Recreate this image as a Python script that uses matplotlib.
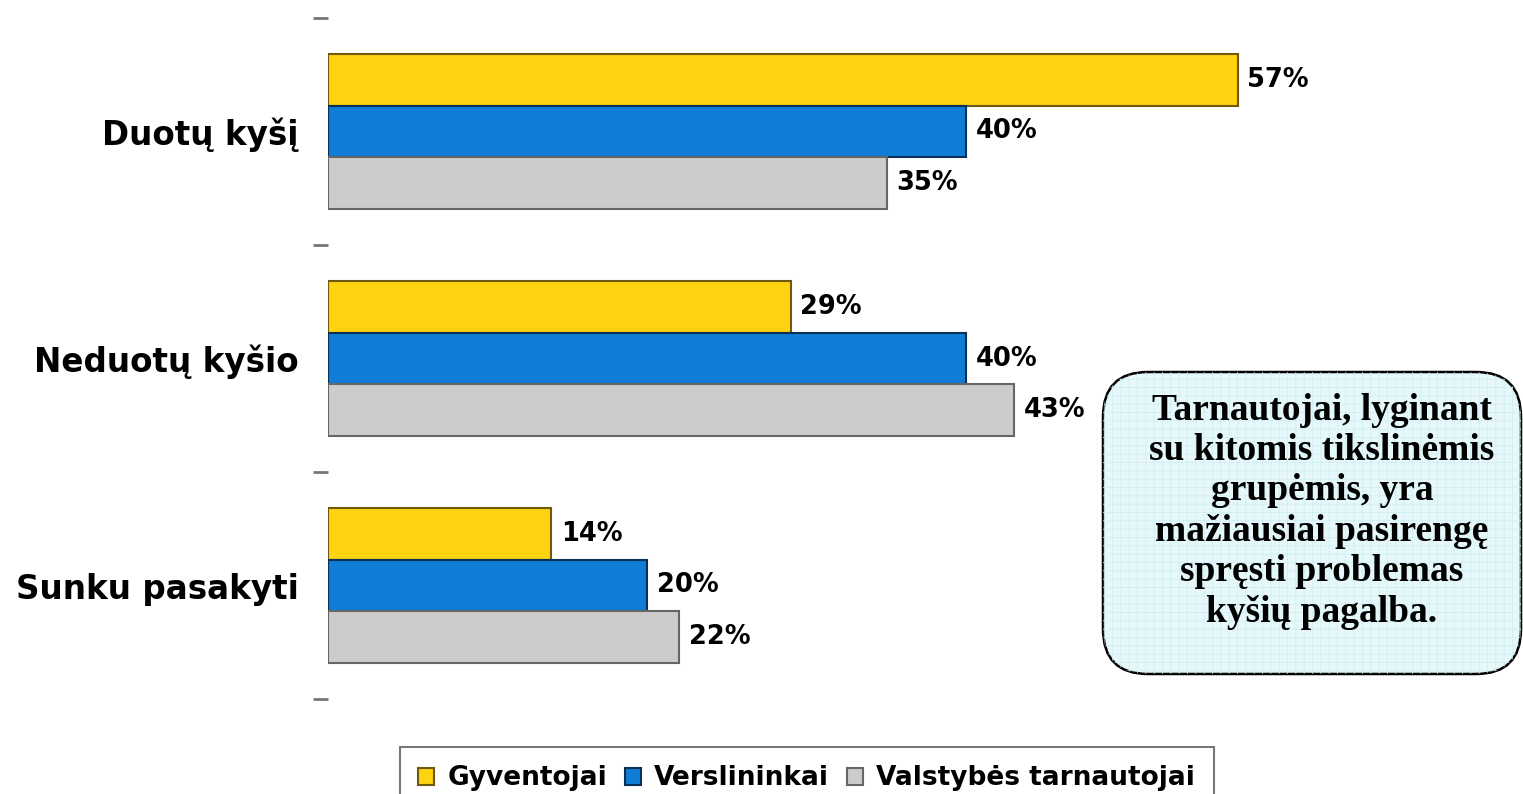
import matplotlib
matplotlib.use("Agg")
import matplotlib.pyplot as plt
from matplotlib.patches import FancyBboxPatch, Patch
import numpy as np

categories = ["Duotų kyšį", "Neduotų kyšio", "Sunku pasakyti"]
series_names = ["Gyventojai", "Verslininkai", "Valstybės tarnautojai"]
gyventojai = [57, 29, 14]
verslininkai = [40, 40, 20]
tarnautojai = [35, 43, 22]
callout_text = ("Tarnautojai, lyginant\nsu kitomis tikslinėmis\ngrupėmis, yra\n"
                "mažiausiai pasirengę\nspręsti problemas\nkyšių pagalba.")

colors = ["#FFD310", "#107DD6", "#CCCCCC"]
edges = ["#6B5A10", "#0B2F55", "#666666"]
SANS = "DejaVu Sans"

W, H = 1523, 794
fig = plt.figure(figsize=(W / 100, H / 100), dpi=100)
ax = fig.add_axes([328 / W, (H - 699) / H, 70 * 15.96 / W, (699 - 18) / H])

series = [gyventojai, verslininkai, tarnautojai]
bh = 0.227
y = np.arange(len(categories))
for i, vals in enumerate(series):
    pos = y + (i - 1) * bh
    ax.barh(pos, vals, height=bh, color=colors[i], edgecolor=edges[i],
            linewidth=1.5, zorder=3)
    for p, v in zip(pos, vals):
        ax.text(v + 0.6, p, f"{v}%", va="center", ha="left",
                fontsize=18.5, fontweight="bold", family=SANS)

ax.set_xlim(0, 70)
ax.set_ylim(2.5, -0.5)
for s in ax.spines.values():
    s.set_visible(False)
ax.set_xticks([])
ax.set_yticks(y)
ax.set_yticklabels(categories, fontsize=23.5, fontweight="bold", family=SANS)
ax.tick_params(axis="y", which="major", length=0, pad=21)
ax.set_yticks([-0.5, 0.5, 1.5, 2.5], minor=True)
ax.tick_params(axis="y", which="minor", length=11, width=2, color="#777777")
ax.patch.set_visible(False)

# callout box (pixel geometry converted to inches)
x0, y0, x1, y1 = 1103, 372, 1521, 674
bx, by, bw, bhh = x0 / 100, (H - y1) / 100, (x1 - x0) / 100, (y1 - y0) / 100
box = FancyBboxPatch((bx, by), bw, bhh,
                     boxstyle="round,pad=0,rounding_size=0.45",
                     transform=fig.dpi_scale_trans, facecolor="#E6F8FA",
                     edgecolor="black", linewidth=1.8, zorder=5)
fig.patches.append(box)
plt.rcParams["hatch.linewidth"] = 0.5
box2 = FancyBboxPatch((bx, by), bw, bhh,
                      boxstyle="round,pad=0,rounding_size=0.45",
                      transform=fig.dpi_scale_trans, facecolor="none",
                      edgecolor="#CDEDF2", hatch="++", linewidth=0, zorder=5.1)
fig.patches.append(box2)
fig.text(1322 / W, 1 - 511 / H, callout_text, ha="center", va="center",
         fontsize=27, fontweight="bold", family="Liberation Serif",
         linespacing=1.2, zorder=6)

handles = [Patch(facecolor=c, edgecolor=e, linewidth=1.5) for c, e in zip(colors, edges)]
leg = fig.legend(handles, series_names, loc="upper left",
                 bbox_to_anchor=(400 / W, 1 - 747 / H), ncol=3,
                 prop={"family": SANS, "weight": "bold", "size": 19},
                 frameon=True, fancybox=False, edgecolor="#555555",
                 handlelength=0.6, handleheight=0.6, handletextpad=0.5,
                 columnspacing=0.68, borderpad=0.7, borderaxespad=0)
leg.get_frame().set_linewidth(1.5)

fig.savefig("out.png", dpi=100)
